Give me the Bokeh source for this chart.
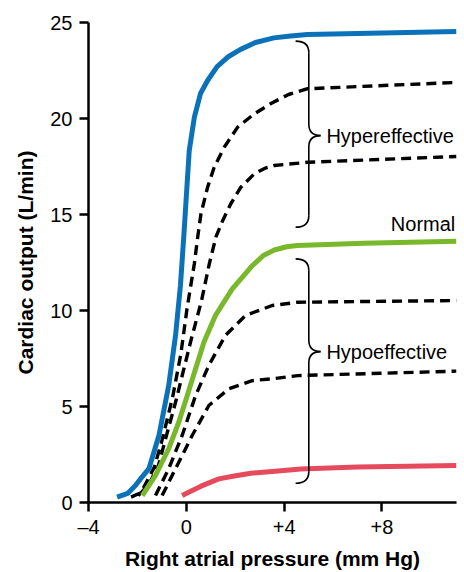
from bokeh.plotting import figure
from bokeh.models import Range1d, FixedTicker, Label
from bokeh.embed import file_html
from bokeh.resources import INLINE

# ---- data ----
HYPER_MAX_X = [-2.83, -2.40, -2.08, -1.83, -1.53, -1.12, -0.72, -0.44, -0.24, -0.10, -0.01, 0.12, 0.33, 0.58, 0.87, 1.26, 1.73, 2.22, 2.83, 3.58, 4.26, 4.96, 11.05]
HYPER_MAX_Y = [0.28, 0.47, 0.89, 1.30, 1.76, 3.49, 6.09, 8.70, 11.30, 13.91, 15.73, 18.33, 20.07, 21.3, 21.98, 22.7, 23.23, 23.6, 23.96, 24.2, 24.3, 24.38, 24.53]

HYPER1_X = [-2.26, -1.85, -1.31, -1.03, -0.76, -0.56, -0.22, 0.03, 0.33, 0.47, 0.60, 0.87, 1.14, 1.55, 2.10, 2.78, 3.46, 4.18, 4.96, 11.05]
HYPER1_Y = [0.28, 0.52, 1.84, 3.06, 4.44, 5.48, 7.76, 10.1, 12.45, 13.86, 15.04, 16.42, 17.46, 18.5, 19.55, 20.24, 20.78, 21.25, 21.55, 21.88]

HYPER2_X = [-1.97, -1.56, -1.16, -0.79, -0.42, -0.22, 0.19, 0.62, 0.94, 1.22, 1.49, 1.82, 2.23, 2.78, 3.20, 3.59, 4.96, 11.05]
HYPER2_Y = [0.36, 0.89, 1.84, 3.59, 5.31, 6.35, 8.44, 10.5, 12.43, 13.86, 14.69, 15.56, 16.42, 17.12, 17.40, 17.55, 17.72, 18.02]

NORMAL_X = [-1.80, -1.26, -0.72, -0.31, 0.04, 0.38, 0.72, 1.19, 1.88, 2.70, 3.17, 3.60, 4.10, 4.54, 7.26, 11.05]
NORMAL_Y = [0.36, 1.41, 2.80, 4.18, 5.57, 6.96, 8.35, 9.74, 11.13, 12.34, 12.88, 13.15, 13.32, 13.39, 13.5, 13.61]

HYPO1_X = [-1.26, -0.72, -0.17, 0.38, 0.92, 1.60, 2.42, 3.51, 4.55, 11.05]
HYPO1_Y = [0.36, 1.76, 3.49, 5.57, 7.14, 8.70, 9.74, 10.26, 10.43, 10.52]

HYPO2_X = [-0.99, -0.44, 0.24, 0.92, 1.74, 2.70, 3.51, 4.55, 11.05]
HYPO2_Y = [0.36, 1.76, 3.49, 5.05, 5.92, 6.35, 6.44, 6.61, 6.84]

HYPO_MIN_X = [-0.17, 0.20, 0.60, 1.33, 1.96, 2.64, 3.51, 4.68, 7.00, 11.05]
HYPO_MIN_Y = [0.36, 0.60, 0.85, 1.23, 1.38, 1.52, 1.62, 1.74, 1.85, 1.93]

X_TICKS = [-4, 0, 4, 8]
X_TICK_LABELS = ["\u20134", "0", "+4", "+8"]
Y_TICKS = [0, 5, 10, 15, 20, 25]

GROUP_NAMES = ["Hypereffective", "Hypoeffective"]
BRACE_TOP = [24.03, 12.69]
BRACE_BOTTOM = [14.34, 1.0]
BRACE_MID = [19.11, 7.86]

# ---- styles ----
BLUE = "#0b72b9"
GREEN = "#78b82a"
RED = "#e54b5c"
FONT = "Liberation Sans"

p = figure(width=464, height=572, output_backend="svg", toolbar_location=None,
           x_range=Range1d(-4, 11.05), y_range=Range1d(0, 25),
           min_border_left=88, min_border_right=8, min_border_top=22, min_border_bottom=70)
p.outline_line_color = None
p.grid.visible = False
p.background_fill_color = "white"
p.border_fill_color = "white"

for ax in (p.xaxis[0], p.yaxis[0]):
    ax.axis_line_width = 2.5
    ax.major_tick_line_width = 2.5
    ax.major_tick_in = 0
    ax.major_tick_out = 9
    ax.minor_tick_line_color = None
    ax.major_label_text_font = FONT
    ax.major_label_text_font_size = "20px"
    ax.major_label_text_color = "black"
    ax.axis_label_text_font = FONT
    ax.axis_label_text_font_size = "21px"
    ax.axis_label_text_font_style = "bold"
    ax.axis_label_text_color = "black"

p.xaxis.ticker = FixedTicker(ticks=X_TICKS)
p.xaxis.major_label_overrides = {t: l for t, l in zip(X_TICKS, X_TICK_LABELS)}
p.yaxis.ticker = FixedTicker(ticks=Y_TICKS)
p.xaxis.axis_label = "Right atrial pressure (mm Hg)"
p.yaxis.axis_label = "Cardiac output (L/min)"
p.xaxis.major_label_standoff = 4
p.yaxis.major_label_standoff = 7
p.xaxis.axis_label_standoff = 6
p.yaxis.axis_label_standoff = 10

# curves
dash_kw = dict(line_color="black", line_width=3.4, line_dash="10 6")
p.line(HYPER1_X, HYPER1_Y, **dash_kw)
p.line(HYPER2_X, HYPER2_Y, **dash_kw)
p.line(HYPO1_X, HYPO1_Y, **dash_kw)
p.line(HYPO2_X, HYPO2_Y, **dash_kw)
p.line(HYPO_MIN_X, HYPO_MIN_Y, line_color=RED, line_width=5, line_join="round")
p.line(NORMAL_X, NORMAL_Y, line_color=GREEN, line_width=5, line_join="round")
p.line(HYPER_MAX_X, HYPER_MAX_Y, line_color=BLUE, line_width=5, line_join="round")

# braces
X_HOOK, X_LINE, X_TIP, R = 4.47, 5.01, 5.49, 0.6
q = dict(x0=[], y0=[], x1=[], y1=[], cx=[], cy=[])
s = dict(x0=[], y0=[], x1=[], y1=[])
for top, bot, mid in zip(BRACE_TOP, BRACE_BOTTOM, BRACE_MID):
    for a in [((X_HOOK, top), (X_LINE, top - R), (X_LINE, top)),
              ((X_LINE, mid + R), (X_TIP, mid), (X_LINE, mid)),
              ((X_TIP, mid), (X_LINE, mid - R), (X_LINE, mid)),
              ((X_LINE, bot + R), (X_HOOK, bot), (X_LINE, bot))]:
        (a0, a1, c) = a
        q["x0"].append(a0[0]); q["y0"].append(a0[1])
        q["x1"].append(a1[0]); q["y1"].append(a1[1])
        q["cx"].append(c[0]); q["cy"].append(c[1])
    s["x0"] += [X_LINE, X_LINE]; s["y0"] += [top - R, mid - R]
    s["x1"] += [X_LINE, X_LINE]; s["y1"] += [mid + R, bot + R]
p.quadratic(line_color="black", line_width=1.6, **q)
p.segment(line_color="black", line_width=1.6, **s)

for name, mid in zip(GROUP_NAMES, BRACE_MID):
    p.add_layout(Label(x=5.73, y=mid, text=name, text_font=FONT, text_font_size="20px",
                       text_baseline="middle", text_align="left", text_color="black"))
p.add_layout(Label(x=11.0, y=14.53, text="Normal", text_font=FONT, text_font_size="20px",
                   text_baseline="middle", text_align="right", text_color="black"))

open("out.html", "w").write(file_html(p, INLINE))
